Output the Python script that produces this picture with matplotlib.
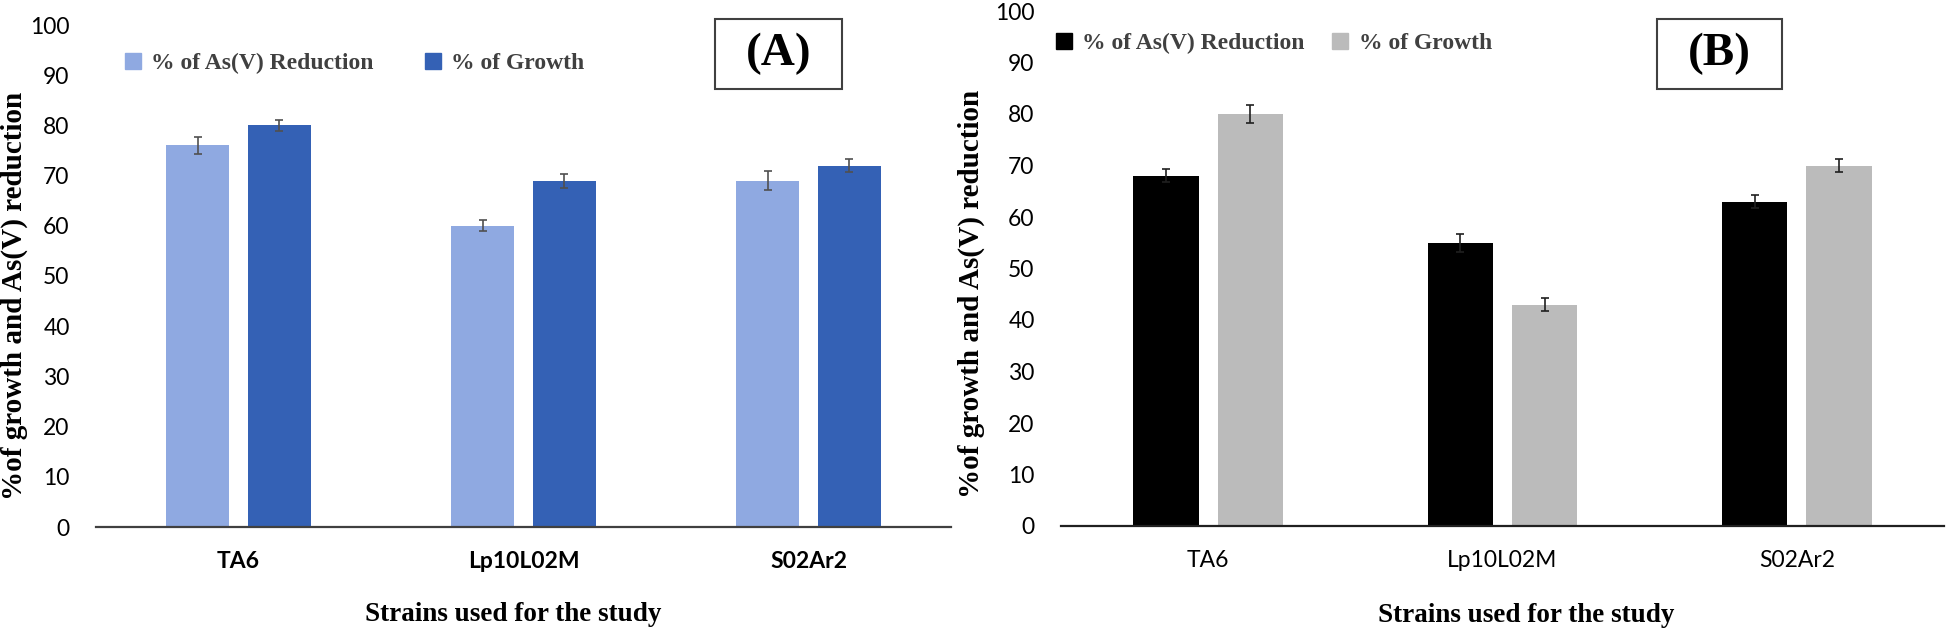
import numpy as np
import matplotlib.pyplot as plt
from matplotlib.patches import Rectangle
from matplotlib.lines import Line2D

strains = ["TA6", "Lp10L02M", "S02Ar2"]

# panel A
red_a = [76, 60, 69]
red_a_err = [1.6, 1.1, 1.9]
grow_a = [80, 69, 72]
grow_a_err = [1.1, 1.4, 1.3]

# panel B
red_b = [68, 55, 63]
red_b_err = [1.3, 1.7, 1.2]
grow_b = [80, 43, 70]
grow_b_err = [1.7, 1.3, 1.2]

series_names = ["% of As(V) Reduction", "% of Growth"]
ylab = "%of growth and As(V) reduction"
xlab = "Strains used for the study"

W, H = 1946, 632
fig = plt.figure(figsize=(W / 100, H / 100), dpi=100)

serif = ["Liberation Serif", "DejaVu Serif"]
sans = ["Lato", "DejaVu Sans"]


def px_axes(l, r, b, t):
    return fig.add_axes([l / W, (H - b) / H, (r - l) / W, (b - t) / H])


def panel(ax, red, red_err, grow, grow_err, colors, ecol, spine_col, bold_ticks):
    x = np.arange(len(strains))
    bw = 0.222
    off = 0.143
    ax.bar(x - off, red, bw, color=colors[0], yerr=red_err,
           error_kw=dict(ecolor=ecol, elinewidth=1.2, capsize=3, capthick=1.2))
    ax.bar(x + off, grow, bw, color=colors[1], yerr=grow_err,
           error_kw=dict(ecolor=ecol, elinewidth=1.2, capsize=3, capthick=1.2))
    ax.set_xlim(-0.5, 2.5)
    ax.set_ylim(0, 100)
    ax.set_yticks(range(0, 101, 10))
    ax.set_xticks(x)
    ax.set_xticklabels(strains, fontfamily=sans, fontsize=16.5,
                       fontweight="bold" if bold_ticks else "normal")
    for lab in ax.get_yticklabels():
        lab.set_fontfamily(sans)
        lab.set_fontsize(16.5)
    ax.tick_params(axis="both", length=0, colors="#000000")
    ax.tick_params(axis="x", pad=17)
    ax.tick_params(axis="y", pad=19)
    for s in ["top", "right", "left"]:
        ax.spines[s].set_visible(False)
    ax.spines["bottom"].set_color(spine_col)
    ax.spines["bottom"].set_linewidth(1.6)
    ax.set_ylabel(ylab, fontfamily=serif, fontweight="bold", fontsize=21)
    ax.set_xlabel(xlab, fontfamily=serif, fontweight="bold", fontsize=19.5)
    ax.xaxis.label.set_va("center")
    ax.yaxis.label.set_va("center")
    ax.patch.set_alpha(0)


axA = px_axes(96, 951, 527, 25)
panel(axA, red_a, red_a_err, grow_a, grow_a_err, ["#8FA9E1", "#3461B5"],
      "#505050", "#404040", True)
axA.xaxis.set_label_coords(0.488, -0.175)
axA.yaxis.set_label_coords(-0.095, 0.46)

axB = px_axes(1061, 1944, 526, 11)
panel(axB, red_b, red_b_err, grow_b, grow_b_err, ["#000000", "#BBBBBB"],
      "#202020", "#202020", False)
axB.xaxis.set_label_coords(0.527, -0.173)
axB.yaxis.set_label_coords(-0.101, 0.45)


def add_legend(ax, colors, x0, y0, colsp):
    handles = [Line2D([], [], marker="s", linestyle="none", markersize=11,
                      markerfacecolor=c, markeredgecolor=c) for c in colors]
    leg = fig.legend(handles, series_names, loc="center left",
                     bbox_to_anchor=(x0 / W, (H - y0) / H), ncol=2,
                     frameon=False, handlelength=0.65, handletextpad=0.45,
                     columnspacing=colsp, borderaxespad=0, borderpad=0,
                     prop=dict(family=serif, weight="bold", size=17))
    for t in leg.get_texts():
        t.set_color("#404040")


add_legend(axA, ["#8FA9E1", "#3461B5"], 125, 63, 2.2)
add_legend(axB, ["#000000", "#BBBBBB"], 1056, 43, 1.2)


def add_tag(label, l, r, t, b):
    fig.patches.append(Rectangle((l / W, (H - b) / H), (r - l) / W, (b - t) / H,
                                 transform=fig.transFigure, fill=False,
                                 edgecolor="#404040", linewidth=1.5))
    fig.text((l + r) / 2 / W, (H - (t + b) / 2) / H, label, ha="center",
             va="center", fontfamily=serif, fontweight="bold", fontsize=34)


add_tag("(A)", 715, 842, 19, 89)
add_tag("(B)", 1657, 1782, 19, 89)

fig.savefig("out.png", dpi=100)
